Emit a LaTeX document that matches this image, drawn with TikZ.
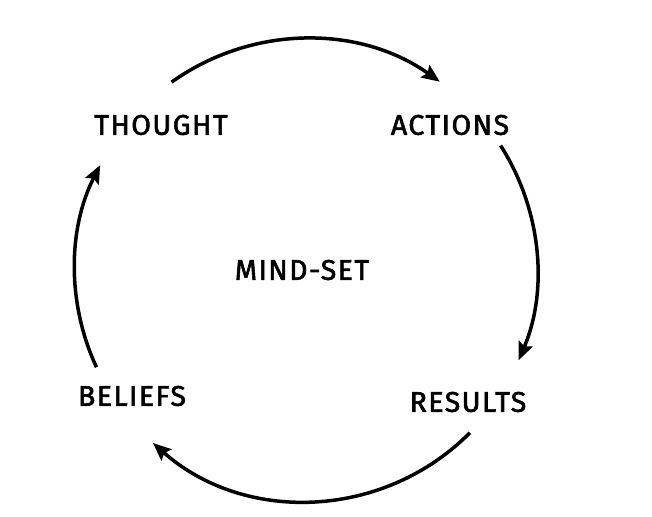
\documentclass[tikz,border=0pt]{standalone}
\usepackage{fontspec}
\setmainfont{Fira Sans}[LetterSpace=5,FakeBold=2]
\usetikzlibrary{arrows.meta,calc}
\begin{document}
\begin{tikzpicture}[x=1pt,y=1pt,
  lbl/.style={font=\fontsize{28.5}{32}\selectfont, inner sep=0pt, anchor=center},
  cyc/.style={line width=3.5pt, -{Stealth[length=18pt,width=15pt,inset=3pt]}}]
\useasboundingbox (0,0) rectangle (652,516);
\coordinate (c) at (306,246);
\node[lbl] (thought) at (161,391) {THOUGHT};
\node[lbl] (actions) at (450,391) {ACTIONS};
\node[lbl] (results) at (468,114) {RESULTS};
\node[lbl] (beliefs) at (132,120) {BELIEFS};
\node[lbl] (mind) at (302,246) {MIND-SET};
\coordinate (s1) at ($(c)+(125.6:231)$);
\coordinate (s2) at ($(c)+(32.6:231)$);
\coordinate (s3) at ($(c)+(-44.8:231)$);
\coordinate (s4) at ($(c)+(204.9:231)$);
\draw[cyc] (s1) arc[start angle=125.6, end angle=54.6, radius=231];
\draw[cyc] (s2) arc[start angle=32.6, end angle=-23, radius=231];
\draw[cyc] (s3) arc[start angle=-44.8, end angle=-131.5, radius=231];
\draw[cyc] (s4) arc[start angle=204.9, end angle=153, radius=231];
\end{tikzpicture}
\end{document}
